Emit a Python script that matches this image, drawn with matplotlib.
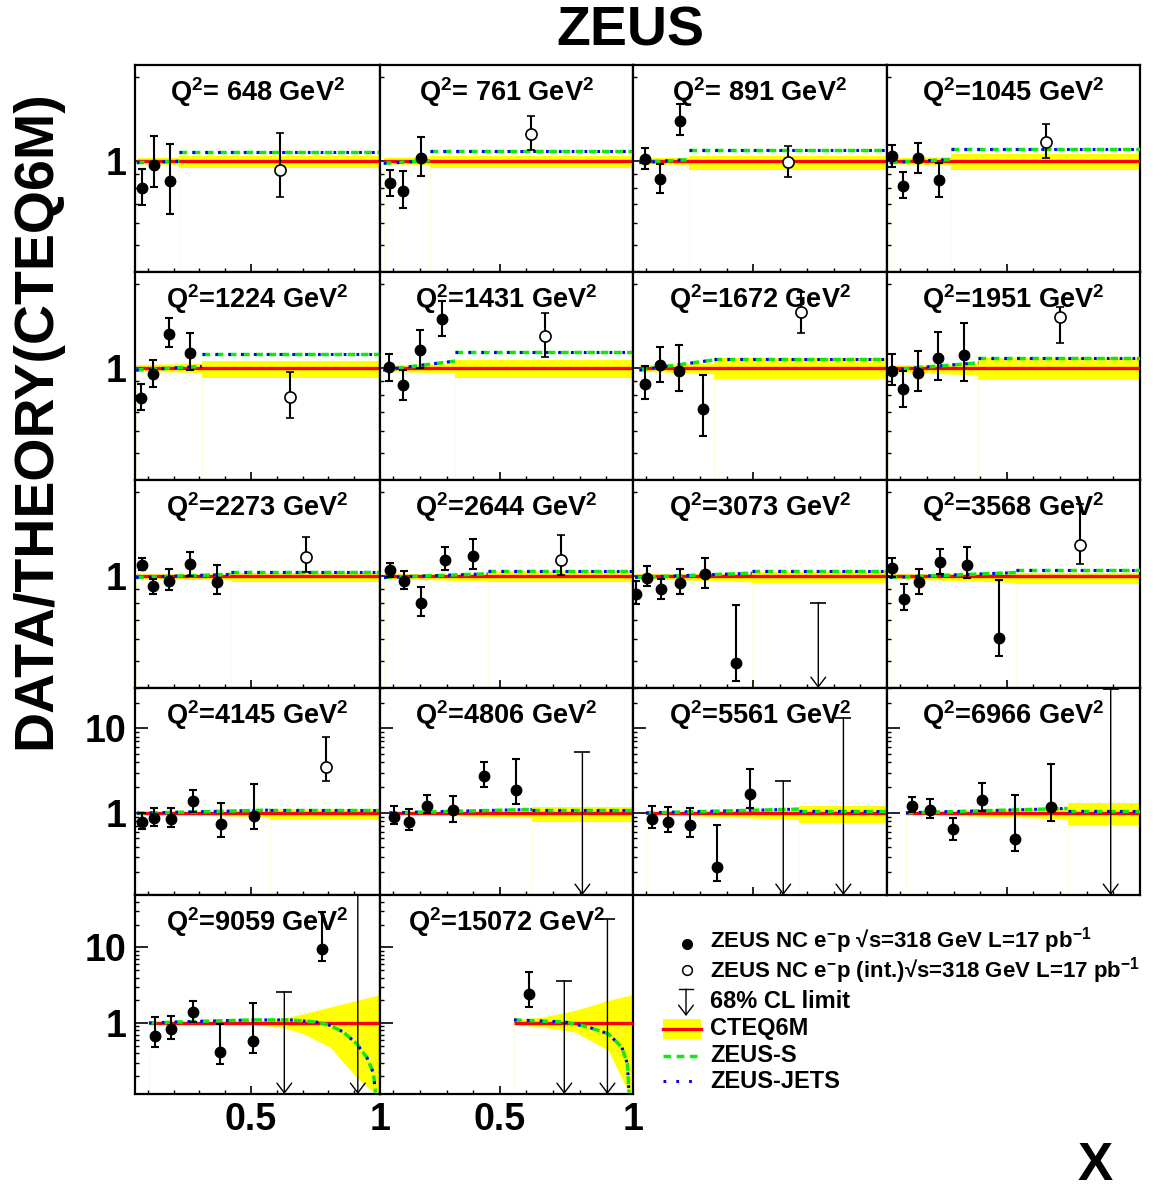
import numpy as np
import matplotlib
matplotlib.use('Agg')
import matplotlib.pyplot as plt
from matplotlib.patches import Rectangle
from matplotlib.ticker import FixedLocator, FixedFormatter, NullFormatter

plt.rcParams.update({
    'font.family': ['Liberation Sans', 'DejaVu Sans'],
    'font.weight': 'bold',
    'mathtext.fontset': 'custom',
    'mathtext.rm': 'Liberation Sans:bold',
    'mathtext.it': 'Liberation Sans:bold',
    'mathtext.bf': 'Liberation Sans:bold',
    'mathtext.sf': 'Liberation Sans:bold',
})

# ---- data ----
Q2 = [648, 761, 891, 1045, 1224, 1431, 1672, 1951, 2273, 2644, 3073, 3568,
      4145, 4806, 5561, 6966, 9059, 15072]

# start of theory band / start of integrated bin
X0 = [0.057, 0.064, 0.074, 0.060, 0.054, 0.062, 0.074, 0.055, 0.054, 0.065,
      0.058, 0.060, 0.057, 0.085, 0.099, 0.121, 0.104, 0.553]
XI = [0.222, 0.238, 0.260, 0.290, 0.309, 0.332, 0.353, 0.393, 0.421, 0.454,
      0.494, 0.534, 0.573, 0.620, 0.671, 0.728]

# CTEQ6M uncertainty (lo, hi): at X0, at XI, in integrated bin
BAND_A = [(0.975, 1.025), (0.975, 1.03), (0.975, 1.025), (0.975, 1.025),
          (0.975, 1.03), (0.975, 1.025), (0.975, 1.025), (0.975, 1.025),
          (0.98, 1.02), (0.98, 1.02), (0.98, 1.02), (0.98, 1.02),
          (0.97, 1.03), (0.97, 1.03), (0.97, 1.03), (0.97, 1.03)]
BAND_B = [(0.97, 1.03), (0.968, 1.033), (0.968, 1.03), (0.965, 1.035),
          (0.965, 1.042), (0.96, 1.04), (0.955, 1.045), (0.944, 1.04),
          (0.97, 1.02), (0.96, 1.02), (0.955, 1.02), (0.95, 1.02),
          (0.90, 1.05), (0.88, 1.06), (0.83, 1.09), (0.85, 1.17)]
BAND_I = [(0.942, 1.036), (0.939, 1.039), (0.929, 1.042), (0.929, 1.053),
          (0.921, 1.059), (0.922, 1.066), (0.913, 1.083), (0.906, 1.088),
          (0.955, 1.03), (0.952, 1.044), (0.944, 1.039), (0.936, 1.03),
          (0.82, 1.12), (0.787, 1.19), (0.75, 1.22), (0.71, 1.31)]

# ZEUS-S / ZEUS-JETS ratio: at X0, at XI, integrated bin
ZS = [(0.985, 0.995, 1.071), (0.98, 1.0, 1.083), (0.985, 1.01, 1.095),
      (0.985, 1.01, 1.106), (0.985, 1.015, 1.125), (0.985, 1.06, 1.143),
      (0.985, 1.07, 1.074), (0.985, 1.045, 1.088), (0.99, 1.015, 1.037),
      (0.99, 1.02, 1.04), (0.99, 1.025, 1.044), (0.99, 1.03, 1.048),
      (0.99, 1.08, 1.085), (1.0, 1.10, 1.09), (1.0, 1.11, 1.065),
      (1.0, 1.13, 1.045)]
ZJ = ZS  # both fits lie on top of each other at this scale

# high-Q2 panels: smooth band and fits
HX = [[0.104, 0.5, 0.612, 0.703, 0.806, 0.91, 0.987, 1.0],
      [0.553, 0.657, 0.782, 0.907, 0.989, 1.0]]
HLO = [[0.98, 0.95, 0.885, 0.722, 0.48, 0.19, 0.11, 0.11],
       [0.95, 0.885, 0.76, 0.435, 0.11, 0.11]]
HHI = [[1.02, 1.05, 1.14, 1.33, 1.63, 2.0, 2.33, 2.4],
       [1.1, 1.2, 1.47, 2.0, 2.33, 2.4]]
CX = [[0.104, 0.289, 0.509, 0.651, 0.755, 0.806, 0.858, 0.91, 0.949, 0.974, 0.983],
      [0.553, 0.745, 0.832, 0.907, 0.958, 0.979, 0.985]]
CY = [[1.0, 1.05, 1.1, 1.1, 1.03, 0.93, 0.76, 0.53, 0.35, 0.22, 0.12],
      [1.1, 1.03, 0.885, 0.72, 0.48, 0.29, 0.12]]

# ZEUS points
PX = [[0.077, 0.124, 0.187], [0.086, 0.138, 0.205], [0.095, 0.152, 0.225],
      [0.069, 0.111, 0.168, 0.246], [0.074, 0.12, 0.182, 0.263],
      [0.083, 0.135, 0.201, 0.283], [0.096, 0.151, 0.221, 0.311],
      [0.069, 0.111, 0.168, 0.24, 0.338], [0.076, 0.12, 0.182, 0.263, 0.367],
      [0.086, 0.139, 0.205, 0.293, 0.398],
      [0.06, 0.102, 0.155, 0.226, 0.319, 0.434],
      [0.068, 0.114, 0.17, 0.249, 0.352, 0.472],
      [0.078, 0.125, 0.191, 0.276, 0.382, 0.511],
      [0.104, 0.158, 0.228, 0.323, 0.439, 0.561],
      [0.122, 0.182, 0.263, 0.365, 0.488],
      [0.145, 0.211, 0.299, 0.406, 0.531, 0.665],
      [0.128, 0.188, 0.274, 0.38, 0.509, 0.775], [0.611]]
PY = [[0.799, 0.968, 0.848], [0.830, 0.781, 1.027], [1.014, 0.860, 1.389],
      [1.042, 0.810, 1.019, 0.855], [0.784, 0.953, 1.327, 1.132],
      [1.012, 0.872, 1.162, 1.495], [0.882, 1.025, 0.976, 0.714],
      [0.976, 0.841, 0.962, 1.088, 1.113], [1.096, 0.923, 0.961, 1.107, 0.954],
      [1.054, 0.961, 0.806, 1.144, 1.18],
      [0.862, 0.984, 0.899, 0.944, 1.022, 0.489],
      [1.071, 0.832, 0.95, 1.119, 1.095, 0.602],
      [0.79, 0.866, 0.843, 1.395, 0.736, 0.922],
      [0.89, 0.782, 1.209, 1.085, 2.74, 1.87],
      [0.85, 0.79, 0.722, 0.23, 1.673],
      [1.219, 1.085, 0.643, 1.422, 0.495, 1.167],
      [0.673, 0.825, 1.411, 0.413, 0.583, 9.46], [2.4]]
PUP = [[0.934, 1.228, 1.147], [0.929, 0.921, 1.218], [1.11, 0.973, 1.594],
       [1.14, 0.913, 1.153, 0.981], [0.877, 1.070, 1.504, 1.336],
       [1.128, 0.985, 1.371, 1.735], [1.017, 1.186, 1.208, 0.944],
       [1.122, 0.976, 1.15, 1.348, 1.444], [1.157, 0.977, 1.057, 1.219, 1.096],
       [1.118, 1.044, 0.914, 1.269, 1.351],
       [0.962, 1.083, 0.981, 1.065, 1.16, 0.788],
       [1.16, 0.936, 1.059, 1.249, 1.266, 0.97],
       [1.008, 1.136, 1.154, 1.865, 1.3, 2.176],
       [1.208, 1.106, 1.62, 1.602, 4.0, 4.32],
       [1.219, 1.177, 1.154, 0.722, 3.29],
       [1.555, 1.462, 0.88, 2.236, 1.628, 3.77],
       [1.19, 1.238, 1.975, 0.97, 1.823, 29.8], [4.69]]
PDN = [[0.697, 0.803, 0.645], [0.750, 0.679, 0.879], [0.934, 0.764, 1.238],
       [0.952, 0.733, 0.904, 0.744], [0.708, 0.855, 1.186, 0.989],
       [0.901, 0.771, 1.005, 1.297], [0.779, 0.894, 0.828, 0.576],
       [0.87, 0.727, 0.828, 0.906, 0.901], [1.05, 0.864, 0.894, 1.0, 0.861],
       [0.993, 0.899, 0.722, 1.054, 1.061],
       [0.794, 0.923, 0.828, 0.862, 0.911, 0.423],
       [0.997, 0.758, 0.867, 1.022, 0.984, 0.522],
       [0.643, 0.709, 0.679, 1.019, 0.526, 0.643],
       [0.732, 0.628, 0.992, 0.79, 2.02, 1.262],
       [0.661, 0.587, 0.526, 0.158, 1.154],
       [1.019, 0.866, 0.481, 1.056, 0.35, 0.805],
       [0.486, 0.62, 1.04, 0.287, 0.404, 6.68], [1.64]]

# integrated-bin points (x, y, up, down)
OPEN = [(0.611, 0.929, 1.256, 0.739), (0.618, 1.249, 1.444, 1.092),
        (0.631, 0.986, 1.131, 0.872), (0.646, 1.169, 1.352, 1.027),
        (0.652, 0.789, 0.969, 0.667), (0.668, 1.297, 1.571, 1.092),
        (0.68, 1.581, 1.868, 1.33), (0.698, 1.517, 1.655, 1.225),
        (0.712, 1.172, 1.378, 1.033), (0.729, 1.141, 1.406, 1.01),
        None, (0.775, 1.294, 1.808, 1.104), (0.79, 3.5, 7.9, 2.38),
        None, None, None, None, None]

# 68% CL upper limits
LX = [[], [], [], [], [], [], [], [], [], [], [0.743], [], [], [0.81],
      [0.612, 0.837], [0.89], [0.629, 0.914], [0.742, 0.904]]
LTOP = [[], [], [], [], [], [], [], [], [], [], [0.806], [], [], [5.2],
        [2.38, 13.4], [29.0], [2.6, 49.0], [3.63, 23.6]]

# ---- layout ----
W, H = 1175, 1191
COLS = [135, 380, 633, 887, 1140]
ROWS = [65, 272, 480, 688, 895, 1094]
YLIMS = [(0.4, 2.2), (0.4, 2.2), (0.4, 2.2), (0.107, 30), (0.115, 49.5)]

YEL = '#ffff00'
RED = '#ff0000'
GRN = '#10e810'
BLU = '#0000ff'
FAINT = '#fffce0'

fig = plt.figure(figsize=(W / 100, H / 100), dpi=100)


def fits(ax, x, y):
    ax.plot(x, y, color=GRN, lw=2.5, dashes=(2.2, 1.6), zorder=4)
    ax.plot(x, y, color=BLU, lw=2.2, dashes=(0.9, 3.3), zorder=5)


for i, q in enumerate(Q2):
    r, c = divmod(i, 4)
    ax = fig.add_axes([COLS[c] / W, 1 - ROWS[r + 1] / H,
                       (COLS[c + 1] - COLS[c]) / W, (ROWS[r + 1] - ROWS[r]) / H])
    ax.set_yscale('log')
    ax.set_xlim(0.05, 1.0)
    ymin, ymax = YLIMS[r]
    ax.set_ylim(ymin, ymax)
    x0 = X0[i]

    if i < 16:
        xi = XI[i]
        ax.fill_between([x0, xi], [BAND_A[i][0], BAND_B[i][0]],
                        [BAND_A[i][1], BAND_B[i][1]], color=YEL, lw=0, zorder=1)
        ax.fill_between([xi, 1.0], BAND_I[i][0], BAND_I[i][1], color=YEL, lw=0, zorder=1)
        ax.vlines([x0, xi], ymin, [BAND_A[i][0], min(BAND_B[i][0], BAND_I[i][0])],
                  color=FAINT, lw=0.8, zorder=1)
        ax.hlines(1, x0, 1.0, color=RED, lw=2.4, zorder=3)
        fits(ax, [x0, xi], ZS[i][:2])
        fits(ax, [xi, 1.0], [ZS[i][2], ZS[i][2]])
    else:
        k = i - 16
        ax.fill_between(HX[k], HLO[k], HHI[k], color=YEL, lw=0, zorder=1)
        ax.vlines([x0], ymin, HLO[k][0], color=FAINT, lw=0.8, zorder=1)
        ax.hlines(1, x0, 1.0, color=RED, lw=2.4, zorder=3)
        fits(ax, CX[k], CY[k])

    px, py = np.array(PX[i]), np.array(PY[i])
    yerr = [py - np.array(PDN[i]), np.array(PUP[i]) - py]
    ax.errorbar(px, py, yerr=yerr, fmt='o', color='k', ms=7.5, elinewidth=1.5,
                capsize=2.8, capthick=1.5, zorder=6)
    if OPEN[i] is not None:
        ox, oy, oup, odn = OPEN[i]
        ax.errorbar([ox], [oy], yerr=[[oy - odn], [oup - oy]], fmt='o', color='k',
                    mfc='white', mec='k', mew=1.2, ms=8, elinewidth=1.5,
                    capsize=2.8, capthick=1.5, zorder=6)
    for lx, lt in zip(LX[i], LTOP[i]):
        ax.annotate('', xy=(lx, ymin), xytext=(lx, lt), annotation_clip=False,
                    arrowprops=dict(arrowstyle='->,head_length=0.5,head_width=0.38',
                                    lw=1.0, color='k', shrinkA=0, shrinkB=0,
                                    mutation_scale=14), zorder=6)
        ax.plot([lx], [lt], marker='_', ms=11, mew=1.2, color='k', zorder=6)

    hpx = ROWS[r + 1] - ROWS[r]
    if q < 1000:
        lab = 'Q$^{2}$= %d GeV$^{2}$' % q
    else:
        lab = 'Q$^{2}$=%d GeV$^{2}$' % q
    ax.text(0.5, 1 - 27 / hpx, lab, transform=ax.transAxes, ha='center',
            va='center', fontsize=19.5, zorder=7)

    # axes styling
    for s in ax.spines.values():
        s.set_linewidth(1.6)
    ax.tick_params(which='both', direction='in', top=False, right=False,
                   labelsize=27, pad=6)
    ax.tick_params(which='major', length=6, width=1.2)
    ax.tick_params(which='minor', length=3, width=1.0)
    ax.xaxis.set_major_locator(FixedLocator([0.5, 1.0]))
    ax.xaxis.set_minor_locator(FixedLocator(np.arange(1, 10) / 10))
    if r < 3:
        ax.yaxis.set_major_locator(FixedLocator([1]))
        ax.yaxis.set_minor_locator(FixedLocator([0.4, 0.5, 0.6, 0.7, 0.8, 0.9, 2]))
        ylab = ['1']
    else:
        ax.yaxis.set_major_locator(FixedLocator([1, 10]))
        ax.yaxis.set_minor_locator(FixedLocator(
            [0.2, 0.3, 0.4, 0.5, 0.6, 0.7, 0.8, 0.9, 2, 3, 4, 5, 6, 7, 8, 9, 20, 30, 40]))
        ax.tick_params(axis='y', which='major', length=9)
        ylab = ['1', '10']
    ax.yaxis.set_minor_formatter(NullFormatter())
    ax.xaxis.set_minor_formatter(NullFormatter())
    if c == 0:
        ax.yaxis.set_major_formatter(FixedFormatter(ylab))
    else:
        ax.yaxis.set_major_formatter(NullFormatter())
    if r == 4:
        ax.xaxis.set_major_formatter(FixedFormatter(['0.5', '1']))
    else:
        ax.xaxis.set_major_formatter(NullFormatter())

# ---- overlay: titles and legend (pixel coordinates) ----
ov = fig.add_axes([0, 0, 1, 1])
ov.set_xlim(0, W)
ov.set_ylim(H, 0)
ov.axis('off')

ov.text(630, 31, 'ZEUS', fontsize=40, ha='center', va='center')
ov.text(36, 420, 'DATA/THEORY(CTEQ6M)', fontsize=40, rotation=90,
        ha='center', va='center')
ov.text(1095, 1166, 'X', fontsize=38, ha='center', va='center')

ov.plot([687], [944], 'o', color='k', ms=7)
ov.plot([687], [970], 'o', mfc='white', mec='k', mew=1.1, ms=7)
ov.annotate('', xy=(686, 1016), xytext=(686, 989),
            arrowprops=dict(arrowstyle='->,head_length=0.5,head_width=0.38',
                            lw=1.0, color='k', shrinkA=0, shrinkB=0,
                            mutation_scale=14))
ov.plot([679, 693], [989, 989], color='k', lw=1.0)
ov.add_patch(Rectangle((663, 1019), 38, 20, color=YEL, lw=0))
ov.plot([663, 701], [1029, 1029], color=RED, lw=2.4)
ov.plot([663, 700], [1056, 1056], color=GRN, lw=2.5, dashes=(2.2, 1.6))
ov.plot([663, 700], [1081, 1081], color=BLU, lw=2.2, dashes=(0.9, 3.3))

legend_texts = [
    'ZEUS NC e$^{-}$p \u221as=318 GeV L=17 pb$^{-1}$',
    'ZEUS NC e$^{-}$p (int.)\u221as=318 GeV L=17 pb$^{-1}$',
    '68% CL limit', 'CTEQ6M', 'ZEUS-S', 'ZEUS-JETS']
legend_y = [941, 971, 1001, 1029, 1056, 1082]
legend_fs = [16, 16, 17, 17, 17, 17]
for t, yy, fs in zip(legend_texts, legend_y, legend_fs):
    ov.text(710, yy, t, fontsize=fs, ha='left', va='center')

fig.savefig('out.png', dpi=100)
